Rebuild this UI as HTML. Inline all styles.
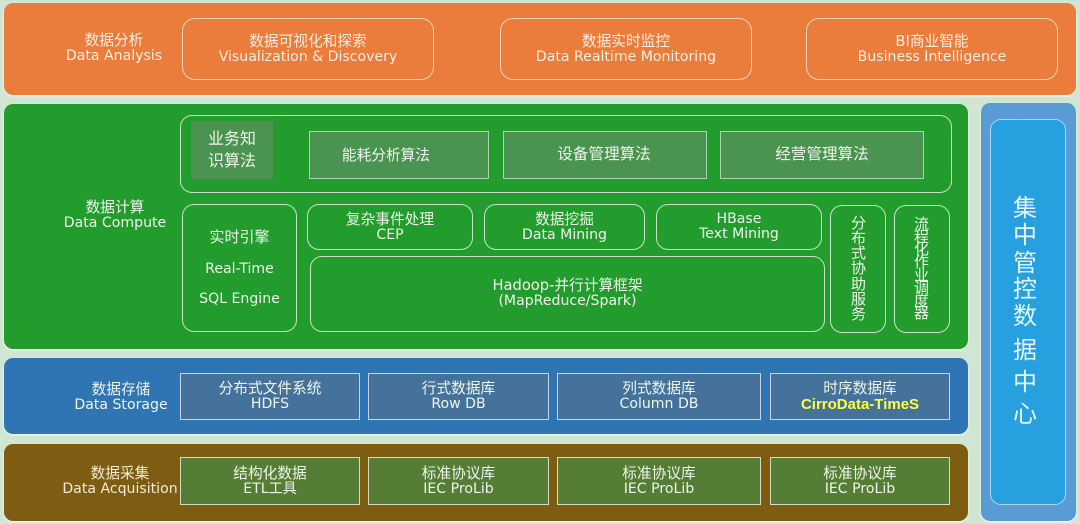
<!DOCTYPE html>
<html lang="zh">
<head>
<meta charset="utf-8">
<style>
html,body{margin:0;padding:0;background:#cfe6d3;}
#w{position:absolute;left:0;top:0;width:1080px;height:524px;overflow:hidden;background:#cfe6d3;font-family:"DejaVu Sans","Noto Sans CJK SC",sans-serif;font-size:14.1px;line-height:15px;color:#eef5ea;filter:blur(.35px);}
div{position:absolute;box-sizing:border-box;}
.p{border-radius:9px;box-shadow:0 1px 2px #fff;}
.b{display:flex;align-items:center;justify-content:center;text-align:center;border:1.5px solid #c8e3c8;white-space:nowrap;}
.l{display:flex;align-items:center;justify-content:center;text-align:center;white-space:nowrap;}
.r{border-radius:12px;}
.o{border-color:#f5d3bb;border-radius:13px;color:#fdeee2;}
.a{background:#4a9350;border-color:#a9d6ae;}
.s{background:#44729b;border-color:#c3d5e6;}
.c{background:#567d35;border-color:#d5dcc2;}
.z{font-size:14.7px;}
.q{position:absolute;left:1005px;width:40px;text-align:center;font-size:24px;line-height:30px;color:#e6f5fc;}
</style>
</head>
<body>
<div id="w">
<div class="p" style="left:4px;top:3px;width:1072px;height:92px;background:#eb7d3c;"></div>
<div class="p" style="left:4px;top:104px;width:964px;height:245px;background:#229c2d;"></div>
<div class="p" style="left:4px;top:358px;width:964px;height:76px;background:#2f74b3;"></div>
<div class="p" style="left:4px;top:444px;width:964px;height:77px;background:#7e5c12;"></div>
<div class="p" style="left:981px;top:103px;width:95px;height:418px;background:#5b9bd5;"></div>
<div class="b" style="left:990px;top:119px;width:76px;height:386px;background:#27a0df;border-color:#a9d9f2;border-radius:11px;"></div>

<div class="l" style="left:54px;top:33px;width:120px;height:30px;color:#fdeee2;"><span><span class="z">数据分析</span><br>Data Analysis</span></div>
<div class="b o" style="left:182px;top:18px;width:252px;height:62px;"><span><span class="z">数据可视化和探索</span><br>Visualization &amp; Discovery</span></div>
<div class="b o" style="left:500px;top:18px;width:252px;height:62px;"><span><span class="z">数据实时监控</span><br>Data Realtime Monitoring</span></div>
<div class="b o" style="left:806px;top:18px;width:252px;height:62px;"><span><span class="z">BI商业智能</span><br>Business Intelligence</span></div>

<div class="l" style="left:55px;top:200px;width:120px;height:30px;"><span><span class="z">数据计算</span><br>Data Compute</span></div>
<div class="b r" style="left:180px;top:115px;width:772px;height:78px;"></div>
<div class="l" style="left:191px;top:121px;width:82px;height:58px;background:#4a9350;"><span style="font-size:16px;line-height:22px;">业务知<br>识算法</span></div>
<div class="b a" style="left:309px;top:131px;width:180px;height:48px;"><span class="z" style="margin-left:-26px;">能耗分析算法</span></div>
<div class="b a" style="left:503px;top:131px;width:204px;height:48px;"><span style="font-size:15.6px;margin-top:-1px;margin-left:-2px;">设备管理算法</span></div>
<div class="b a" style="left:720px;top:131px;width:204px;height:48px;"><span style="font-size:15.6px;margin-top:-1px;">经营管理算法</span></div>

<div class="b r" style="left:182px;top:204px;width:115px;height:128px;"><span style="line-height:30.5px;margin-top:1px;"><span style="font-size:15px;">实时引擎</span><br>Real-Time<br>SQL Engine</span></div>
<div class="b r" style="left:307px;top:204px;width:166px;height:46px;"><span><span class="z">复杂事件处理</span><br>CEP</span></div>
<div class="b r" style="left:484px;top:204px;width:161px;height:46px;"><span><span class="z">数据挖掘</span><br>Data Mining</span></div>
<div class="b r" style="left:656px;top:204px;width:166px;height:46px;"><span>HBase<br>Text Mining</span></div>
<div class="b r" style="left:310px;top:256px;width:515px;height:76px;"><span style="margin-top:-2px;"><span class="z">Hadoop-并行计算框架</span><br>(MapReduce/Spark)</span></div>
<div class="b r" style="left:830px;top:205px;width:56px;height:128px;"><span style="font-size:15px;line-height:15.2px;margin-left:1px;">分<br>布<br>式<br>协<br>助<br>服<br>务</span></div>
<div class="b r" style="left:894px;top:205px;width:56px;height:128px;"><span style="font-size:15px;line-height:12.8px;margin-left:-1px;">流<br>程<br>化<br>作<br>业<br>调<br>度<br>器</span></div>

<div class="l" style="left:61px;top:382px;width:120px;height:30px;"><span><span class="z">数据存储</span><br>Data Storage</span></div>
<div class="b s" style="left:180px;top:373px;width:180px;height:47px;"><span><span class="z">分布式文件系统</span><br>HDFS</span></div>
<div class="b s" style="left:368px;top:373px;width:181px;height:47px;"><span><span class="z">行式数据库</span><br>Row DB</span></div>
<div class="b s" style="left:557px;top:373px;width:204px;height:47px;"><span><span class="z">列式数据库</span><br>Column DB</span></div>
<div class="b s" style="left:770px;top:373px;width:180px;height:47px;"><span><span class="z">时序数据库</span><br><span style="font:bold 15px/16px 'Liberation Sans',sans-serif;color:#ffff3c;">CirroData-TimeS</span></span></div>

<div class="l" style="left:60px;top:466px;width:120px;height:30px;color:#f3ecd8;"><span><span class="z">数据采集</span><br>Data Acquisition</span></div>
<div class="b c" style="left:180px;top:457px;width:180px;height:48px;"><span><span class="z">结构化数据</span><br>ETL工具</span></div>
<div class="b c" style="left:368px;top:457px;width:181px;height:48px;"><span><span class="z">标准协议库</span><br>IEC ProLib</span></div>
<div class="b c" style="left:557px;top:457px;width:204px;height:48px;"><span><span class="z">标准协议库</span><br>IEC ProLib</span></div>
<div class="b c" style="left:770px;top:457px;width:180px;height:48px;"><span><span class="z">标准协议库</span><br>IEC ProLib</span></div>

<div class="q" style="top:193px;">集</div>
<div class="q" style="top:220px;">中</div>
<div class="q" style="top:248px;">管</div>
<div class="q" style="top:274px;">控</div>
<div class="q" style="top:301px;">数</div>
<div class="q" style="top:335px;">据</div>
<div class="q" style="top:367px;">中</div>
<div class="q" style="top:399px;">心</div>
</div>
</body>
</html>
